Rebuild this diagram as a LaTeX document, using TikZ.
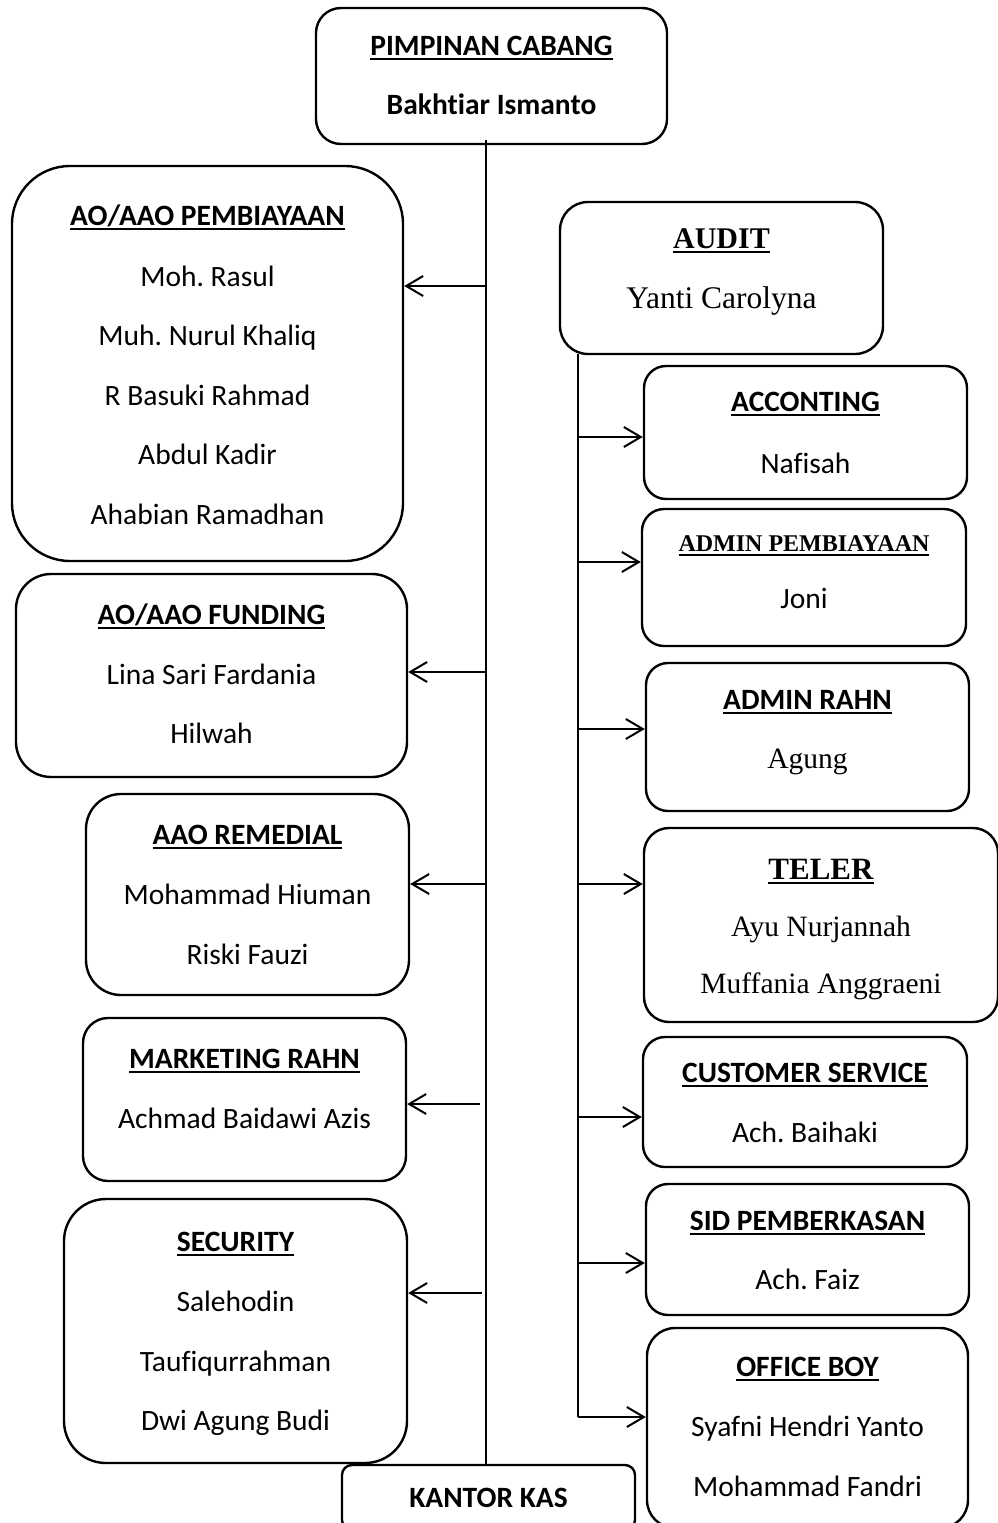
\documentclass[tikz,border=0pt]{standalone}
\usepackage{fontspec}
\setmainfont{Carlito}[Ligatures={NoCommon}]
\newfontfamily\tnr{Liberation Serif}[Ligatures={NoCommon}]
\usetikzlibrary{arrows.meta}
\frenchspacing
\newcommand\hul[2][2pt]{\setbox0=\hbox{#2}\rlap{\rule[-5pt]{\wd0}{#1}}\box0}
\tikzset{
  orgbox/.style={draw, line width=2.4pt, rounded corners=#1, inner sep=0pt},
  txt/.style={anchor=base, inner sep=0pt, font=\fontsize{29.5}{35}\selectfont},
  txb/.style={anchor=base, inner sep=0pt, font=\fontsize{29.5}{35}\selectfont\bfseries},
  tms/.style={anchor=base, inner sep=0pt, font=\fontsize{29.5}{35}\selectfont\tnr},
  tmb/.style={anchor=base, inner sep=0pt, font=\fontsize{30}{35}\selectfont\tnr\bfseries},
  trunk/.style={line width=2pt},
  arr/.style={line width=2pt, -{Straight Barb[length=17pt,width=20pt]}},
}
\begin{document}
\begin{tikzpicture}[x=1pt,y=-1pt]
\useasboundingbox (0,0) rectangle (998,1523);
\clip (0,0) rectangle (998,1523);

% ---------- top ----------
\node[orgbox=25, minimum width=351pt, minimum height=136pt] (pc) at (491.5,76) {};
\node[txb] (pc1) at (491.5,55) {\hul{PIMPINAN CABANG}};
\node[txb] (pc2) at (491.5,114) {Bakhtiar Ismanto};

% ---------- left column ----------
\node[orgbox=58, minimum width=391pt, minimum height=395pt] (pemb) at (207.5,363.5) {};
\node[txb] (pemb0) at (207.5,225) {\hul{AO/AAO PEMBIAYAAN}};
\node[txt] (pemb1) at (207.5,286) {Moh. Rasul};
\node[txt] (pemb2) at (207.5,345) {Muh. Nurul Khaliq};
\node[txt] (pemb3) at (207.5,405) {R Basuki Rahmad};
\node[txt] (pemb4) at (207.5,464) {Abdul Kadir};
\node[txt] (pemb5) at (207.5,524) {Ahabian Ramadhan};

\node[orgbox=35, minimum width=391pt, minimum height=203pt] (fund) at (211.5,675.5) {};
\node[txb] (fund0) at (211.5,624) {\hul{AO/AAO FUNDING}};
\node[txt] (fund1) at (211.5,684) {Lina Sari Fardania};
\node[txt] (fund2) at (211.5,743) {Hilwah};

\node[orgbox=35, minimum width=323pt, minimum height=201pt] (rem) at (247.5,894.5) {};
\node[txb] (rem0) at (247.5,844) {\hul{AAO REMEDIAL}};
\node[txt] (rem1) at (247.5,904) {Mohammad Hiuman};
\node[txt] (rem2) at (247.5,964) {Riski Fauzi};

\node[orgbox=25, minimum width=323pt, minimum height=163pt] (mkt) at (244.5,1099.5) {};
\node[txb] (mkt0) at (244.5,1068) {\hul{MARKETING RAHN}};
\node[txt] (mkt1) at (244.5,1128) {Achmad Baidawi Azis};

\node[orgbox=42, minimum width=343pt, minimum height=264pt] (sec) at (235.5,1331) {};
\node[txb] (sec0) at (235.5,1251) {\hul{SECURITY}};
\node[txt] (sec1) at (235.5,1311) {Salehodin};
\node[txt] (sec2) at (235.5,1371) {Taufiqurrahman};
\node[txt] (sec3) at (235.5,1430) {Dwi Agung Budi};

\node[orgbox=10, minimum width=293pt, minimum height=65pt] (kas) at (488.5,1497.5) {};
\node[txb] (kas0) at (488.5,1507) {KANTOR KAS};

% ---------- right column ----------
\node[orgbox=28, minimum width=323pt, minimum height=152pt] (audit) at (721.5,278) {};
\node[tmb] (audit0) at (721.5,248) {\hul[2.5pt]{AUDIT}};
\node[tms, font=\fontsize{31.5}{36}\selectfont\tnr] (audit1) at (721.5,308) {Yanti Carolyna};

\node[orgbox=22, minimum width=323pt, minimum height=133pt] (acc) at (805.5,432.5) {};
\node[txb] (acc0) at (805.5,411) {\hul{ACCONTING}};
\node[txt] (acc1) at (805.5,473) {Nafisah};

\node[orgbox=22, minimum width=324pt, minimum height=137pt] (admp) at (804,577.5) {};
\node[tmb, font=\fontsize{24}{28}\selectfont\tnr\bfseries] (admp0) at (804,551) {\hul[2.5pt]{ADMIN PEMBIAYAAN}};
\node[txt] (admp1) at (804,608) {Joni};

\node[orgbox=22, minimum width=323pt, minimum height=148pt] (admr) at (807.5,737) {};
\node[txb] (admr0) at (807.5,709) {\hul{ADMIN RAHN}};
\node[tms] (admr1) at (807.5,768) {Agung};

\node[orgbox=25, minimum width=354pt, minimum height=194pt] (teler) at (821,925) {};
\node[tmb, font=\fontsize{31}{36}\selectfont\tnr\bfseries] (teler0) at (821,879) {\hul[2.5pt]{TELER}};
\node[tms] (teler1) at (821,936) {Ayu Nurjannah};
\node[tms] (teler2) at (821,993) {Muffania Anggraeni};

\node[orgbox=22, minimum width=324pt, minimum height=130pt] (cs) at (805,1102) {};
\node[txb] (cs0) at (805,1082) {\hul{CUSTOMER SERVICE}};
\node[txt] (cs1) at (805,1142) {Ach. Baihaki};

\node[orgbox=22, minimum width=323pt, minimum height=131pt] (sid) at (807.5,1249.5) {};
\node[txb] (sid0) at (807.5,1230) {\hul{SID PEMBERKASAN}};
\node[txt] (sid1) at (807.5,1289) {Ach. Faiz};

\node[orgbox=28, minimum width=321pt, minimum height=200pt] (ob) at (807.5,1428) {};
\node[txb] (ob0) at (807.5,1376) {\hul{OFFICE BOY}};
\node[txt] (ob1) at (807.5,1436) {Syafni Hendri Yanto};
\node[txt] (ob2) at (807.5,1496) {Mohammad Fandri};

% ---------- connectors ----------
\coordinate (tTop) at (486,140);
\coordinate (tBot) at (486,1465);
\draw[trunk] (tTop) -- (tBot);

\coordinate (l1) at (486,286);
\coordinate (l2) at (486,672);
\coordinate (l3) at (486,884);
\coordinate (l4) at (480,1104);
\coordinate (l5) at (482,1293);
\draw[arr] (l1) -- (pemb.east |- l1);
\draw[arr] (l2) -- (fund.east |- l2);
\draw[arr] (l3) -- (rem.east |- l3);
\draw[arr] (l4) -- (mkt.east |- l4);
\draw[arr] (l5) -- (sec.east |- l5);

\coordinate (sTop) at (578,354);
\coordinate (sBot) at (578,1417);
\draw[trunk] (sTop) -- (sBot);
\draw[arr] (sBot) -- (ob.west |- sBot);

\coordinate (r1) at (578,437);
\coordinate (r2) at (578,562);
\coordinate (r3) at (578,729);
\coordinate (r4) at (578,884);
\coordinate (r5) at (578,1117);
\coordinate (r6) at (578,1263);
\draw[arr] (r1) -- (acc.west |- r1);
\draw[arr] (r2) -- (admp.west |- r2);
\draw[arr] (r3) -- (admr.west |- r3);
\draw[arr] (r4) -- (teler.west |- r4);
\draw[arr] (r5) -- (cs.west |- r5);
\draw[arr] (r6) -- (sid.west |- r6);
\end{tikzpicture}
\end{document}
